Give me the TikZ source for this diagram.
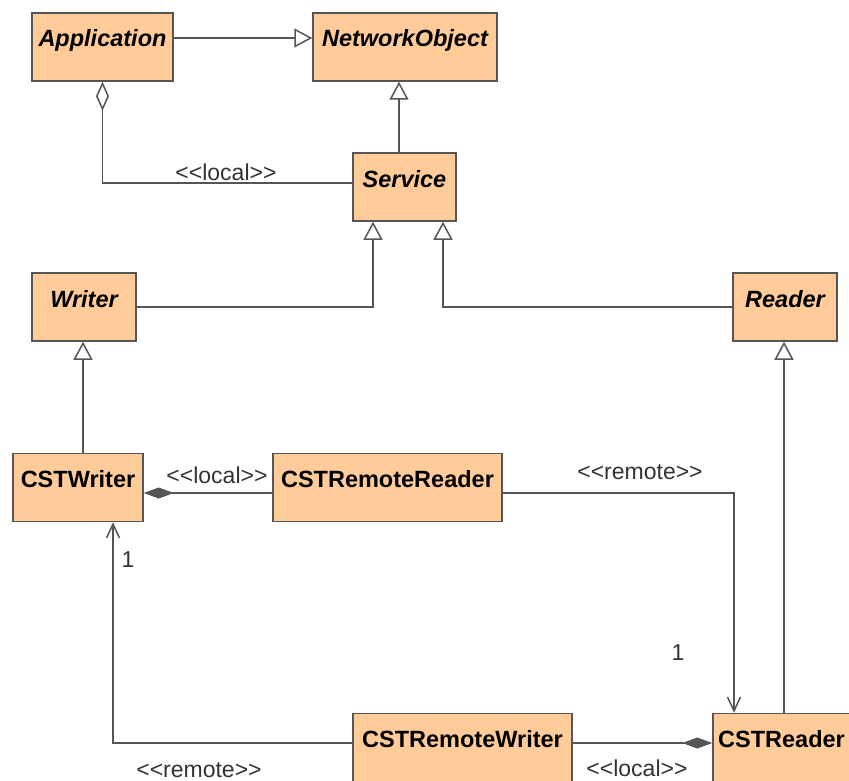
\documentclass[tikz,border=0pt]{standalone}
\usepackage{fontspec}
\setmainfont{Liberation Sans}
\newfontfamily\lblfont{Liberation Sans}[Ligatures=TeXOff]
\usetikzlibrary{arrows.meta}

\definecolor{classfill}{RGB}{255,204,153}
\definecolor{edge}{RGB}{85,85,85}

\tikzset{
  classbox/.style={draw=edge, fill=classfill, line width=1.5pt, inner sep=0pt,
    text height=34pt, text depth=34pt, align=center,
    font=\fontsize{23.5}{28}\selectfont\bfseries},
  abstract/.style={classbox, font=\fontsize{23.5}{28}\selectfont\bfseries\itshape},
  conn/.style={draw=edge, line width=1.5pt},
  gen/.style={conn, -{Triangle[length=18pt, width=19pt, fill=white, line width=1.5pt]}},
  aggr/.style={conn, {Diamond[length=29pt, width=13pt, fill=white, line width=1.5pt]}-},
  comp/.style={conn, -{Diamond[length=30pt, width=11pt, fill=edge, line width=1pt]}},
  nav/.style={conn, -{Straight Barb[length=14pt, width=13pt, line width=1.5pt]}},
  lbl/.style={inner sep=0pt, text=black!80, font=\lblfont\fontsize{23}{26}\selectfont}
}

\begin{document}
\begin{tikzpicture}[x=1pt, y=-1pt]
\useasboundingbox[fill=white] (0,0) rectangle (849,781);

% classes
\node[abstract, minimum width=141pt] (app)     at (102.5,47)  {Application};
\node[abstract, minimum width=184pt] (netobj)  at (405,47)    {NetworkObject};
\node[abstract, minimum width=103pt] (service) at (404.5,187) {Service};
\node[abstract, minimum width=104pt] (writer)  at (84,307)    {Writer};
\node[abstract, minimum width=104pt] (reader)  at (785,307)   {Reader};
\node[classbox, minimum width=130pt] (cstw)    at (78,487.5)  {CSTWriter};
\node[classbox, minimum width=229pt] (cstrr)   at (387.5,487.5) {CSTRemoteReader};
\node[classbox, minimum width=219pt] (cstrw)   at (462.5,747.5) {CSTRemoteWriter};
\node[classbox, minimum width=137pt] (cstr)    at (781.5,747.5) {CSTReader};

% generalizations
\draw[gen] ([yshift=9pt]app.east) -- ([yshift=9pt]app.east -| netobj.west);
\draw[gen] ([xshift=-5.5pt]service.north) -- ([xshift=-5.5pt]service.north |- netobj.south);
\draw[gen] (writer.east) -| ([xshift=-31.5pt]service.south);
\draw[gen] (reader.west) -| ([xshift=38.5pt]service.south);
\draw[gen] ([xshift=-1pt]writer.south |- cstw.north) -- ([xshift=-1pt]writer.south);
\draw[gen] ([xshift=-1pt]reader.south |- cstr.north) -- ([xshift=-1pt]reader.south);

% aggregation Application - Service
\draw[aggr] (app.south) |- ([yshift=4pt]service.west);
\node[lbl] (l1) at (226,172) {<<local>>};

% compositions
\draw[comp] ([yshift=-5.5pt]cstrr.west) -- ([yshift=-5.5pt]cstrr.west -| cstw.east);
\node[lbl] (l2) at (217,475) {<<local>>};
\draw[comp] ([yshift=4.5pt]cstrw.east) -- ([yshift=4.5pt]cstrw.east -| cstr.west);
\node[lbl] (l3) at (637,768) {<<local>>};

% remote associations
\draw[nav] ([yshift=-5.5pt]cstrr.east) -| ([xshift=-47.5pt]cstr.north);
\node[lbl] (l4) at (640,472) {<<remote>>};
\node[lbl] (m1) at (678,653) {1};
\draw[nav] ([yshift=4.5pt]cstrw.west) -| ([xshift=35pt]cstw.south);
\node[lbl] (l5) at (199,770) {<<remote>>};
\node[lbl] (m2) at (128,560) {1};
\end{tikzpicture}
\end{document}
